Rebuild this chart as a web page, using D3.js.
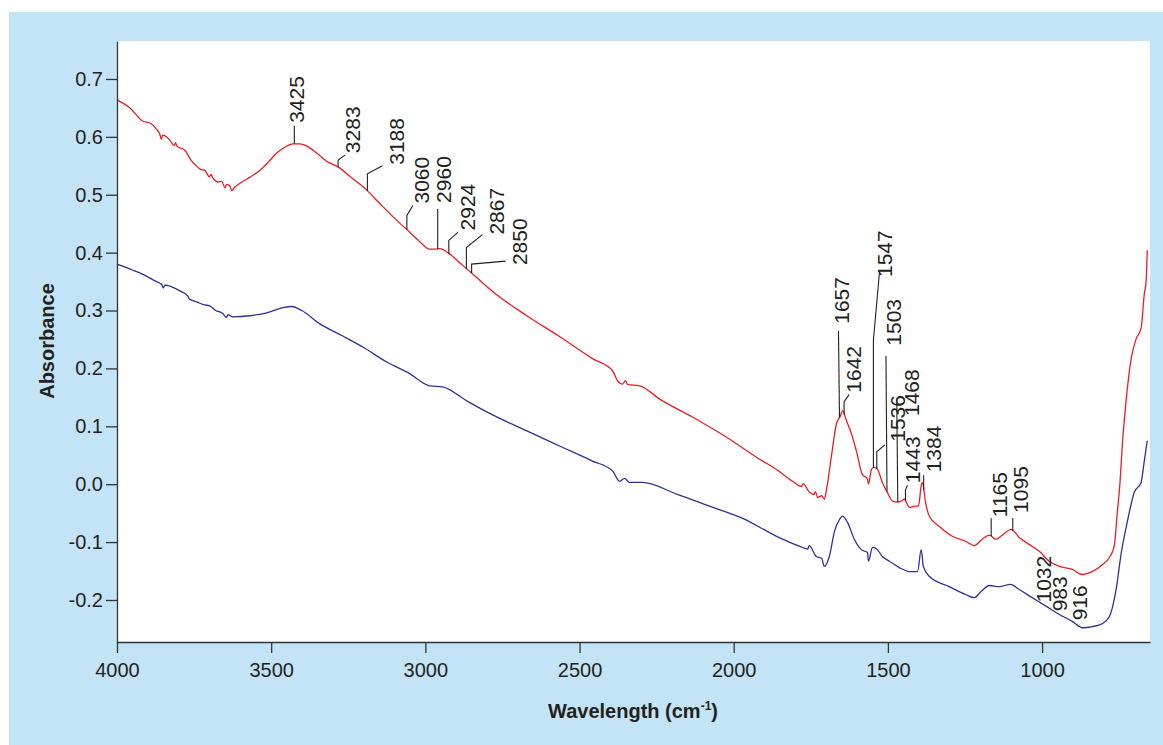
<!DOCTYPE html>
<html>
<head>
<meta charset="utf-8">
<script src="https://cdn.jsdelivr.net/npm/d3@7"></script>
<style>
  body { margin: 0; background: #fff; }
  text { font-family: "Liberation Sans", Arial, Helvetica, sans-serif; fill: #231f20; }
</style>
</head>
<body>
<script>

var width = 1163,
    height = 745;

// red spectrum (upper trace)
var redWn = [4000, 3958, 3916, 3893, 3870, 3862, 3856, 3852, 3828, 3815, 3810, 3806, 3780, 3760, 3741, 3730, 3715, 3700, 3695, 3689,
  3672, 3660, 3650, 3645, 3634, 3628, 3620, 3592, 3570, 3537, 3510, 3482, 3456, 3430, 3407, 3384, 3352, 3320, 3277, 3245,
  3190, 3148, 3083, 3064, 3018, 2986, 2966, 2953, 2927, 2879, 2840, 2782, 2671, 2565, 2458, 2393, 2377, 2360, 2351, 2344,
  2305, 2240, 2134, 2023, 1916, 1860, 1809, 1780, 1775, 1754, 1740, 1735, 1728, 1715, 1706, 1699, 1683, 1667, 1654, 1647,
  1634, 1618, 1602, 1583, 1566, 1563, 1553, 1544, 1534, 1518, 1502, 1485, 1469, 1456, 1447, 1430, 1414, 1401, 1392, 1388,
  1378, 1366, 1333, 1291, 1246, 1220, 1194, 1171, 1149, 1129, 1100, 1074, 1042, 1009, 977, 944, 902, 870, 837, 805,
  782, 766, 756, 747, 740, 727, 711, 695, 679, 669, 662, 659];
var redAbs = [0.664, 0.650, 0.627, 0.624, 0.612, 0.606, 0.596, 0.603, 0.594, 0.585, 0.590, 0.584, 0.577, 0.560, 0.549, 0.544, 0.542, 0.531, 0.535, 0.529,
  0.522, 0.523, 0.512, 0.518, 0.515, 0.507, 0.512, 0.523, 0.530, 0.542, 0.556, 0.572, 0.582, 0.588, 0.588, 0.584, 0.572, 0.558, 0.546, 0.532,
  0.508, 0.485, 0.451, 0.442, 0.419, 0.406, 0.406, 0.407, 0.400, 0.378, 0.360, 0.333, 0.291, 0.255, 0.217, 0.196, 0.179, 0.173, 0.179, 0.172,
  0.170, 0.147, 0.116, 0.081, 0.043, 0.025, 0.005, -0.004, 0.001, -0.014, -0.018, -0.013, -0.023, -0.020, -0.026, -0.009, 0.049, 0.104, 0.118, 0.127,
  0.109, 0.087, 0.057, 0.017, 0.009, 0.000, 0.026, 0.029, 0.026, 0.003, -0.014, -0.029, -0.031, -0.029, -0.026, -0.040, -0.038, -0.038, -0.003, 0.003,
  -0.031, -0.055, -0.073, -0.090, -0.099, -0.106, -0.095, -0.088, -0.095, -0.088, -0.078, -0.092, -0.104, -0.116, -0.133, -0.142, -0.147, -0.156, -0.151, -0.139,
  -0.127, -0.107, -0.049, 0.005, 0.066, 0.147, 0.217, 0.251, 0.269, 0.326, 0.355, 0.404];

// blue spectrum (lower trace)
var blueWn = [4000, 3950, 3903, 3880, 3855, 3850, 3845, 3796, 3770, 3765, 3741, 3720, 3699, 3680, 3657, 3645, 3640, 3624, 3569, 3514,
  3462, 3433, 3401, 3342, 3268, 3203, 3125, 3051, 2986, 2944, 2866, 2801, 2671, 2565, 2458, 2393, 2370, 2354, 2338, 2296,
  2185, 2078, 1971, 1861, 1787, 1760, 1755, 1732, 1715, 1706, 1690, 1673, 1657, 1647, 1631, 1609, 1586, 1566, 1563, 1550,
  1534, 1518, 1495, 1463, 1430, 1404, 1392, 1385, 1366, 1301, 1246, 1220, 1197, 1171, 1139, 1103, 1074, 1032, 986, 944,
  902, 870, 837, 805, 782, 760, 743, 724, 701, 679, 669, 659];
var blueAbs = [0.380, 0.370, 0.359, 0.352, 0.345, 0.339, 0.344, 0.334, 0.325, 0.320, 0.315, 0.310, 0.308, 0.300, 0.295, 0.288, 0.293, 0.289, 0.291, 0.296,
  0.305, 0.307, 0.300, 0.277, 0.256, 0.237, 0.211, 0.191, 0.170, 0.168, 0.144, 0.125, 0.092, 0.066, 0.040, 0.023, 0.005, 0.010, 0.003, 0.003,
  -0.017, -0.038, -0.059, -0.090, -0.107, -0.112, -0.106, -0.125, -0.128, -0.142, -0.125, -0.081, -0.061, -0.055, -0.066, -0.095, -0.113, -0.118, -0.133, -0.109,
  -0.113, -0.125, -0.133, -0.144, -0.151, -0.151, -0.113, -0.142, -0.159, -0.177, -0.191, -0.196, -0.185, -0.175, -0.177, -0.173, -0.182, -0.196, -0.211, -0.225,
  -0.237, -0.248, -0.246, -0.241, -0.229, -0.182, -0.118, -0.066, -0.014, 0.003, 0.038, 0.075];

var xTicks = [4000, 3500, 3000, 2500, 2000, 1500, 1000];
var yTicks = [-0.2, -0.1, 0.0, 0.1, 0.2, 0.3, 0.4, 0.5, 0.6, 0.7];

// peak labels on the red trace
var peakWn = [3425, 3283, 3188, 3060, 2960, 2924, 2867, 2850, 1657, 1642, 1547, 1503, 1536, 1468, 1443, 1384, 1165, 1095, 1032, 983, 916];

// label layout, px offsets from the curve point: [elbow, endX, endY, textX, textY]
var labelLayout = [
  [null, 0, -18, 2, -21],
  [-7, 7, -12, 14, -14],
  [-17, 15, -25, 29, -26],
  [-14, 6, -24, 15, -26],
  [null, 0, -40, 6, -46],
  [-13, 9, -21, 19, -23],
  [-21, 16, -34, 30, -34],
  [-9, 34, -12, 48, -8],
  [null, -1, -87, 2, -94],
  [-13, 5, -20, 9, -22],
  [-128, 6, -195, 11, -191],
  [null, -1, -136, 6, -146],
  [-17, 8, -24, 21, -27],
  [null, -1, -103, 14, -86],
  [-11, 2, -16, 7, -18],
  [null, 0, -15, 10, -18],
  [null, 0, -18, 8, -19],
  [null, 0, -13, 8, -18],
  [null, null, null, 11, 56],
  [null, null, null, 12, 52],
  [null, null, null, 11, 52]
];

var margin = {top: 41, right: 13, bottom: 103, left: 117};

var xScale = d3.scaleLinear()
    .domain([4000, 650])
    .range([margin.left, width - margin.right]);

var yScale = d3.scaleLinear()
    .domain([-0.2726, 0.7656])
    .range([height - margin.bottom, margin.top]);

var svg = d3.select("body")
    .append("svg")
    .attr("width", width)
    .attr("height", height);

// panel background
svg.append("rect")
    .attr("x", 9).attr("y", 12)
    .attr("width", width - 9).attr("height", height - 12)
    .attr("fill", "#c3e4f6");

svg.append("rect")
    .attr("x", margin.left).attr("y", margin.top)
    .attr("width", width - margin.right - margin.left)
    .attr("height", height - margin.bottom - margin.top)
    .attr("fill", "#fff");

var line = d3.line()
    .x(function(d) { return xScale(d[0]); })
    .y(function(d) { return yScale(d[1]); })
    .curve(d3.curveMonotoneX);

var blue = blueWn.map(function(w, i) { return [w, blueAbs[i]]; });
var red = redWn.map(function(w, i) { return [w, redAbs[i]]; });

svg.append("path")
    .datum(blue)
    .attr("d", line)
    .attr("fill", "none")
    .attr("stroke", "#2e3192")
    .attr("stroke-width", 1.3);

svg.append("path")
    .datum(red)
    .attr("d", line)
    .attr("fill", "none")
    .attr("stroke", "#ed1c24")
    .attr("stroke-width", 1.3);

// axes
var xAxis = svg.append("g")
    .attr("transform", "translate(0," + (height - margin.bottom) + ")")
    .call(d3.axisBottom(xScale)
        .tickValues(xTicks)
        .tickSize(11)
        .tickSizeOuter(0)
        .tickPadding(10)
        .tickFormat(d3.format("d")));

var yAxis = svg.append("g")
    .attr("transform", "translate(" + margin.left + ",0)")
    .call(d3.axisLeft(yScale)
        .tickValues(yTicks)
        .tickSize(11)
        .tickSizeOuter(0)
        .tickPadding(3)
        .tickFormat(function(d) { return d.toFixed(1); }));

[xAxis, yAxis].forEach(function(ax) {
    ax.select(".domain").attr("stroke", "#333").attr("stroke-width", 1.3);
    ax.selectAll(".tick line").attr("stroke", "#333").attr("stroke-width", 1.3);
    ax.selectAll(".tick text")
        .attr("fill", "#231f20")
        .style("font-size", "20px")
        .style("font-family", "'Liberation Sans', Arial, sans-serif");
});

// axis titles
svg.append("text")
    .attr("x", 633)
    .attr("y", 718)
    .attr("text-anchor", "middle")
    .style("font-size", "20px")
    .style("font-weight", "bold")
    .text("Wavelength (cm")
    .append("tspan")
    .attr("dy", -8)
    .style("font-size", "12px")
    .text("-1")
    .select(function() { return this.parentNode; })
    .append("tspan")
    .attr("dy", 8)
    .text(")");

svg.append("text")
    .attr("transform", "translate(54,341) rotate(-90)")
    .attr("text-anchor", "middle")
    .style("font-size", "20px")
    .style("font-weight", "bold")
    .text("Absorbance");

// y of red trace at a wavenumber
function redAt(w) {
    for (var i = 1; i < red.length; i++) {
        if (red[i][0] <= w) {
            var a = red[i - 1], b = red[i];
            var t = (a[0] - w) / (a[0] - b[0]);
            return a[1] + t * (b[1] - a[1]);
        }
    }
    return red[red.length - 1][1];
}

var labels = svg.append("g");

peakWn.forEach(function(w, i) {
    var L = labelLayout[i];
    var cx = xScale(w),
        cy = yScale(redAt(w));

    if (L[1] !== null) {
        var pts = [[cx, cy]];
        if (L[0] !== null) pts.push([cx, cy + L[0]]);
        pts.push([cx + L[1], cy + L[2]]);
        labels.append("path")
            .attr("d", d3.line()(pts))
            .attr("fill", "none")
            .attr("stroke", "#231f20")
            .attr("stroke-width", 1.1);
    }

    labels.append("text")
        .attr("transform", "translate(" + (cx + L[3]) + "," + (cy + L[4]) + ") rotate(-90)")
        .attr("dy", "0.36em")
        .style("font-size", "21px")
        .text(w);
});

</script>
</body>
</html>
